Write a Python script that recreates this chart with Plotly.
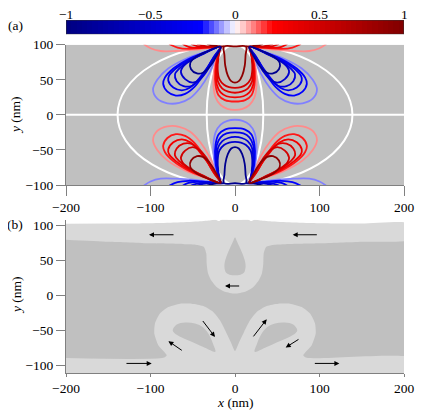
import numpy as np
import plotly.graph_objects as go
from plotly.colors import sample_colorscale

# ---- panel (a): contour levels, read from the top-left quadrant ----
# the picture is mirror symmetric in x, and antisymmetric in y (bottom = -top)
levels = [0.1, 0.2, 0.3, 0.4, 0.5, 0.9]

# blue side lobes (value = -level), top-left
side_lobe_x = [
    [-17, -35, -58, -79, -92, -97, -92, -80, -66, -53, -41, -31, -23, -17],
    [-17, -36, -56, -73, -83, -85, -80, -70, -59, -48, -38, -28, -17],
    [-17, -37, -55, -70, -78, -79, -73, -63, -53, -43, -33, -25, -17],
    [-17, -38, -54, -66, -71, -69, -61, -51, -42, -33, -24, -17],
    [-17, -39, -53, -62, -64, -59, -50, -42, -34, -25, -17],
    [-17, -34, -46, -53, -52, -45, -38, -29, -21, -17],
]
side_lobe_y = [
    [97, 90, 80, 66, 50, 36, 23, 16.5, 17, 24, 39, 58, 80, 97],
    [97, 89, 79, 66, 53, 44, 33, 27.5, 30, 40, 56, 76, 97],
    [97, 88, 78, 66, 56, 49, 39, 35, 39, 51, 67, 83, 97],
    [97, 87, 77, 66, 58, 48, 41, 41.5, 51, 66, 84, 97],
    [97, 86, 77, 68, 61, 51, 46, 50, 61, 80, 97],
    [97, 90, 83, 74, 65, 59, 60, 70, 86, 97],
]

# red centre lobe (value = +level), left half from the cusp to x = 0
centre_lobe_x = [
    [-17, -22, -25, -25.5, -23, -17, -9, 0],
    [-17, -21, -23.5, -23, -19.5, -12, 0],
    [-17, -20.5, -22.5, -21.5, -17, -10, 0],
    [-17, -20, -21.5, -20, -15, -8, 0],
    [-17, -19.5, -20.5, -18.5, -13, -7, 0],
    [-13, -12.5, -11.5, -8.5, -4.5, 0],
]
centre_lobe_y = [
    [97, 82, 62, 42, 25, 14, 8.5, 7],
    [97, 82, 62, 42, 28, 21, 19],
    [97, 82, 62, 43, 32, 26.5, 25],
    [97, 82, 63, 47, 37.5, 33, 31.5],
    [97, 83, 65, 51, 43, 39.5, 38.5],
    [97.5, 85, 70, 56, 48, 46],
]

# red arcs hugging the top edge (value = +level), top-left
edge_arc_x = [
    [-108, -100, -88, -70, -50, -32, -17],
    [-78, -68, -55, -40, -27, -17],
    [-62, -55, -45, -33, -17],
    [-52, -45, -35, -17],
    [-45, -38, -28, -17],
    [-33, -28, -20, -13],
]
edge_arc_y = [
    [101, 95, 91, 91, 92.5, 95, 97],
    [101, 96, 94, 95, 96.5, 97],
    [101, 97, 95.5, 96, 97],
    [101, 98, 96.5, 97],
    [101, 98.5, 97, 97],
    [101, 99, 98, 97.5],
]

# white guide curves
ellipse_half_widths = [139, 33.5]
ellipse_half_height = 100

# colour key
colorbar_ticks = [-1, -0.5, 0, 0.5, 1]
colorbar_labels = ["\u22121", "\u22120.5", "0", "0.5", "1"]

# ---- panel (b): light regions ----
band_top_x = [-210, -150, -100, -70, -45, -30, -23, -19, -16, -8, 0]
band_top_y = [102.3, 102.5, 103, 104, 105.5, 107, 108, 106, 108, 108, 107.8]
band_low_x = [-210, -150, -100, -60, -45, -37]
band_low_y = [80, 76.5, 74.2, 73, 72, 69.5]
loop_outer_x = [-34, -33.5, -32, -28, -21, -12, 0]
loop_outer_y = [60, 45, 32, 21, 11, 5, 2.4]
loop_hole_x = [0, -2, -5, -9, -12, -12.5, -11, -6.5, 0]
loop_hole_y = [83, 78, 70, 59, 48, 40, 33, 29.5, 28.5]

bottom_band_top = -89.3
bottom_band_bottom = -110.5
petal_outer_x = [-80.8, -90.8, -95.5, -94.7, -88.8, -78.9, -65, -51.3, -37.5, -25.7, -17.8, -10.7, -5.1, 0]
petal_outer_y = [-85.5, -71.2, -54.6, -40.3, -26.1, -16.7, -11.9, -11.9, -15.2, -23.7, -35.6, -52.3, -66.5, -79.8]
petal_hole_x = [-73.7, -69, -59.2, -47.3, -37.5, -30.4, -25.7, -23.3, -35.5, -49.3, -63, -71.8, -73.7]
petal_hole_y = [-49.9, -41.8, -38.9, -40.3, -46, -57, -70.3, -80.7, -75, -67.4, -60.3, -53.7, -49.9]

# arrows: tail and head positions
arrow_tail_x = [-71, 98.6, 6.7, -39.4, -61.2, 20.5, 76.9, -130.2, 92.7]
arrow_tail_y = [86.5, 86.5, 13.3, -34.6, -80.1, -60.8, -61.7, -97.3, -97.3]
arrow_head_x = [-101.8, 68.3, -11.8, -23.7, -78.8, 37.5, 60, -98.6, 123.5]
arrow_head_y = [86.5, 86.5, 13.3, -59.4, -65.5, -34.2, -74.5, -97.3, -97.3]

cscale = [[0.0, "#00007f"], [0.4, "#0000ff"], [0.5, "#ffffff"],
          [0.61, "#ff0000"], [1.0, "#7f0000"]]
colorbar_edges = np.linspace(-1, 1, 65)

DARK = "#c0c0c0"
LIGHT = "#d9d9d9"
FONT = "Liberation Serif, Times New Roman, serif"


def color_of(v):
    return sample_colorscale(cscale, [(v + 1) / 2])[0]


# page pixel -> paper fraction (the page body adds an 8 px offset)
def px_x(px):
    return (px - 66) / 338


def px_y(py):
    return (373 - py) / 353


fig = go.Figure()

# colour key as a strip heatmap
mids = (colorbar_edges[:-1] + colorbar_edges[1:]) / 2
fig.add_trace(go.Heatmap(z=[mids.tolist()], x=colorbar_edges.tolist(), y=[0, 1],
                         colorscale=cscale, zmin=-1, zmax=1, showscale=False,
                         xaxis="x3", yaxis="y3", hoverinfo="skip"))


def add_line(xs, ys, value):
    fig.add_trace(go.Scatter(x=xs, y=ys, mode="lines", xaxis="x", yaxis="y",
                             line=dict(color=color_of(value), width=1.8, shape="spline"),
                             hoverinfo="skip", showlegend=False))


def add_mirrored(xs, ys, value):
    xs = np.array(xs, float)
    ys = np.array(ys, float)
    add_line(xs, ys, value)
    add_line(-xs, ys, value)
    add_line(xs, -ys, -value)
    add_line(-xs, -ys, -value)


for i, lev in enumerate(levels):
    add_mirrored(edge_arc_x[i], edge_arc_y[i], lev)
    add_mirrored(side_lobe_x[i], side_lobe_y[i], -lev)
    hx = centre_lobe_x[i]
    hy = centre_lobe_y[i]
    fx = hx + [-v for v in reversed(hx[:-1])]
    fy = hy + list(reversed(hy[:-1]))
    if i == len(levels) - 1:
        fx = fx + [0, hx[0]]
        fy = fy + [hy[0], hy[0]]
    fx = np.array(fx, float)
    fy = np.array(fy, float)
    add_line(fx, fy, lev)
    add_line(fx, -fy, -lev)

# panel (b) regions
top_x = band_top_x + [-v for v in reversed(band_top_x[:-1])]
top_y = band_top_y + list(reversed(band_top_y[:-1]))
low_x = band_low_x + loop_outer_x
low_y = band_low_y + loop_outer_y
low_x = low_x + [-v for v in reversed(low_x[:-1])]
low_y = low_y + list(reversed(low_y[:-1]))
reg_x = top_x + list(reversed(low_x))
reg_y = top_y + list(reversed(low_y))
fig.add_trace(go.Scatter(x=reg_x, y=reg_y, mode="lines", fill="toself", fillcolor=LIGHT,
                         line=dict(width=0, color=LIGHT, shape="spline", smoothing=0.6),
                         xaxis="x2", yaxis="y2", hoverinfo="skip", showlegend=False))

hole_x = loop_hole_x + [-v for v in reversed(loop_hole_x[:-1])]
hole_y = loop_hole_y + list(reversed(loop_hole_y[:-1]))
fig.add_trace(go.Scatter(x=hole_x, y=hole_y, mode="lines", fill="toself", fillcolor=DARK,
                         line=dict(width=0, color=DARK, shape="spline", smoothing=0.8),
                         xaxis="x2", yaxis="y2", hoverinfo="skip", showlegend=False))

right_petal_x = [-v for v in petal_outer_x]
bx = ([-210, 210, 210, 85] + right_petal_x + list(reversed(petal_outer_x[:-1]))
      + [-85, -210])
by = ([bottom_band_bottom, bottom_band_bottom, bottom_band_top, bottom_band_top]
      + petal_outer_y + list(reversed(petal_outer_y[:-1])) + [bottom_band_top, bottom_band_top])
fig.add_trace(go.Scatter(x=bx, y=by, mode="lines", fill="toself", fillcolor=LIGHT,
                         line=dict(width=0, color=LIGHT, shape="spline", smoothing=0.6),
                         xaxis="x2", yaxis="y2", hoverinfo="skip", showlegend=False))
for sgn in (1, -1):
    fig.add_trace(go.Scatter(x=[sgn * v for v in petal_hole_x], y=petal_hole_y, mode="lines",
                             fill="toself", fillcolor=DARK,
                             line=dict(width=0, color=DARK, shape="spline"),
                             xaxis="x2", yaxis="y2", hoverinfo="skip", showlegend=False))

shapes = [
    dict(type="rect", xref="x", yref="y", x0=-200, x1=200, y0=-100, y1=100,
         fillcolor=DARK, line=dict(width=0), layer="below"),
    dict(type="rect", xref="x2", yref="y2", x0=-200, x1=200, y0=-100, y1=100,
         fillcolor=DARK, line=dict(width=0), layer="below"),
    dict(type="line", xref="x", yref="y", x0=-200, x1=200, y0=0, y1=0,
         line=dict(color="white", width=2), layer="below"),
    dict(type="rect", xref="x3", yref="y3", x0=-1, x1=1, y0=0, y1=1,
         line=dict(color="#333333", width=1)),
]
for a in ellipse_half_widths:
    shapes.append(dict(type="circle", xref="x", yref="y", x0=-a, x1=a,
                       y0=-ellipse_half_height, y1=ellipse_half_height,
                       line=dict(color="white", width=2), layer="below"))

annotations = []
for tx, ty, hx_, hy_ in zip(arrow_tail_x, arrow_tail_y, arrow_head_x, arrow_head_y):
    annotations.append(dict(x=hx_, y=hy_, ax=tx, ay=ty, xref="x2", yref="y2",
                            axref="x2", ayref="y2", text="", showarrow=True,
                            arrowhead=2, arrowsize=1, arrowwidth=1, arrowcolor="black"))

tickfont = dict(family=FONT, size=13.5, color="black")
for v, lab in zip(colorbar_ticks, colorbar_labels):
    annotations.append(dict(text=lab, x=v, xref="x3", y=px_y(14.5), yref="paper",
                            showarrow=False, font=tickfont, xanchor="center",
                            yanchor="middle"))

txt = dict(family=FONT, size=13.5, color="black")
for text, x, y, ang in [("(a)", 15, 25, 0), ("(b)", 15, 225, 0),
                        ("<i>y</i> (nm)", 16, 115, -90), ("<i>y</i> (nm)", 16, 295, -90),
                        ("<i>x</i> (nm)", 235, 402, 0)]:
    annotations.append(dict(text=text, x=px_x(x), y=px_y(y), xref="paper", yref="paper",
                            showarrow=False, textangle=ang, font=txt,
                            xanchor="center", yanchor="middle"))

axis_common = dict(showgrid=False, zeroline=False, showline=True, linecolor="#808080",
                   linewidth=1, ticks="outside", tickcolor="#808080", tickfont=tickfont,
                   automargin=False)

fig.update_layout(
    width=435, height=404,
    margin=dict(l=58, r=39, t=12, b=39, autoexpand=False),
    paper_bgcolor="white", plot_bgcolor="white",
    showlegend=False,
    shapes=shapes, annotations=annotations,
    xaxis=dict(axis_common, domain=[0, 1], range=[-200, 200], anchor="y",
               tickvals=[-200, -100, 0, 100, 200], ticklen=10),
    yaxis=dict(axis_common, domain=[px_y(185), px_y(44.7)], range=[-100, 100], anchor="x",
               tickvals=[-100, -50, 0, 50, 100], ticklen=9),
    xaxis2=dict(axis_common, domain=[0, 1], range=[-200, 200], anchor="y2",
                tickvals=[-200, -100, 0, 100, 200], ticklen=3),
    yaxis2=dict(axis_common, domain=[0, px_y(219.7)], range=[-111, 108], anchor="x2",
                tickvals=[-100, -50, 0, 50, 100], ticklen=9),
    xaxis3=dict(domain=[0, 1], range=[-1, 1], anchor="y3", visible=False),
    yaxis3=dict(domain=[px_y(34.3), px_y(20)], range=[0, 1], anchor="x3", visible=False),
)

fig.write_html("out.html")
